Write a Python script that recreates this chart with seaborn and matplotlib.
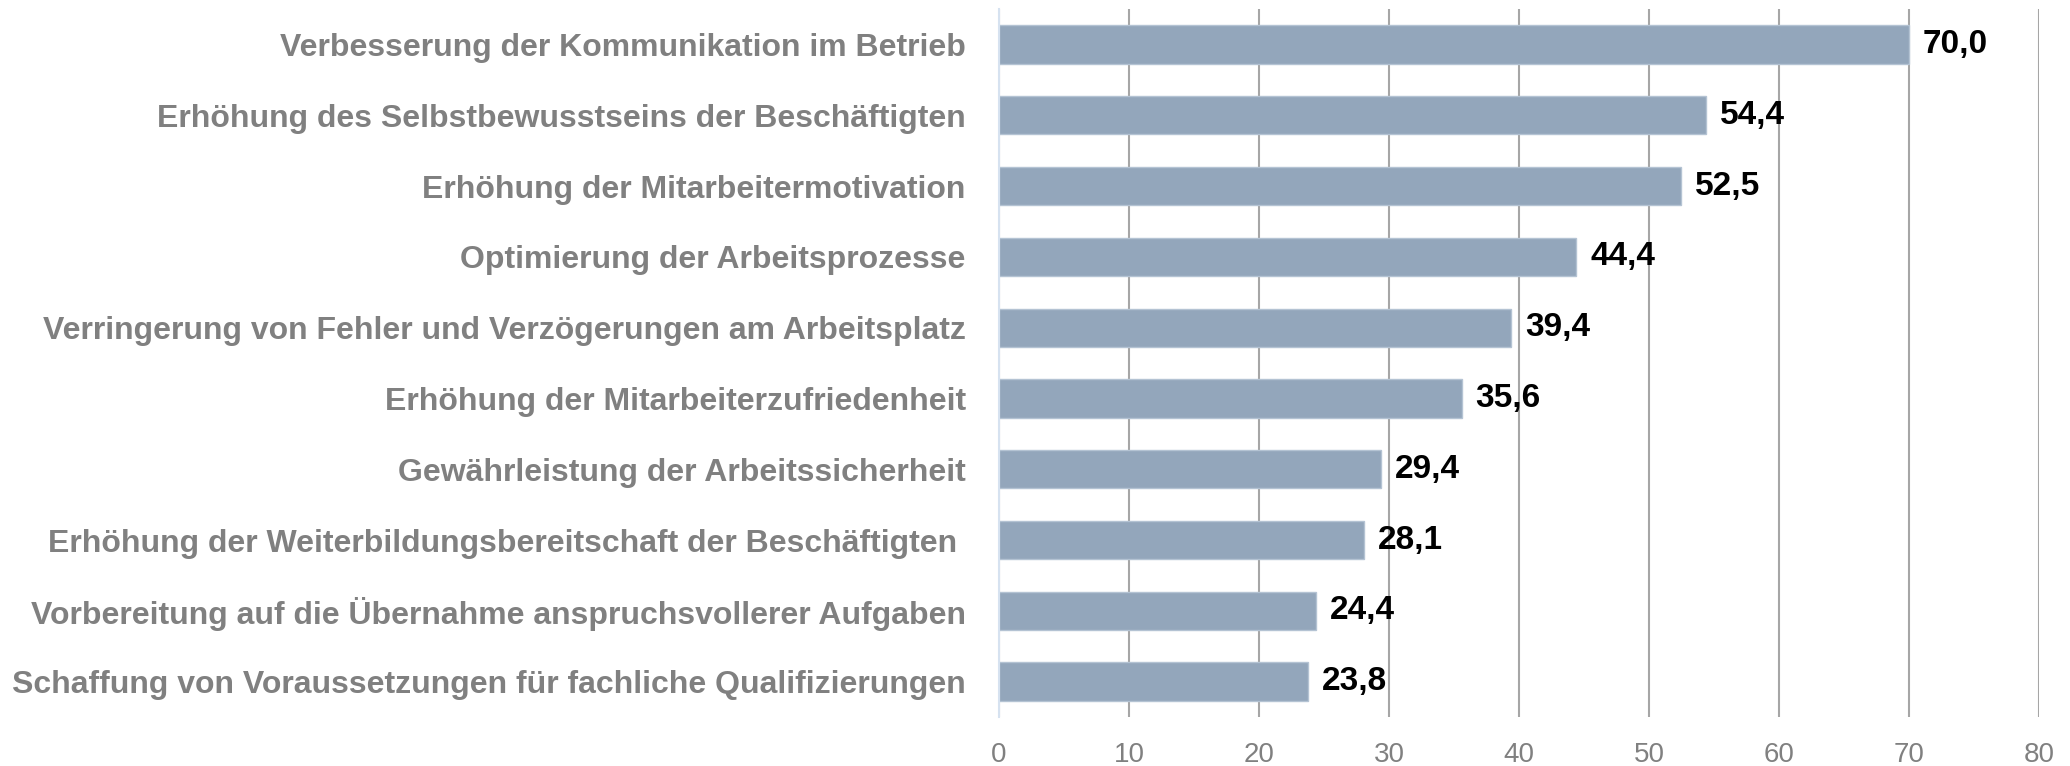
import matplotlib
matplotlib.use("Agg")
import matplotlib.pyplot as plt
import seaborn as sns
import pandas as pd

categories = [
    "Verbesserung der Kommunikation im Betrieb",
    "Erhöhung des Selbstbewusstseins der Beschäftigten",
    "Erhöhung der Mitarbeitermotivation",
    "Optimierung der Arbeitsprozesse",
    "Verringerung von Fehler und Verzögerungen am Arbeitsplatz",
    "Erhöhung der Mitarbeiterzufriedenheit",
    "Gewährleistung der Arbeitssicherheit",
    "Erhöhung der Weiterbildungsbereitschaft der Beschäftigten ",
    "Vorbereitung auf die Übernahme anspruchsvollerer Aufgaben",
    "Schaffung von Voraussetzungen für fachliche Qualifizierungen",
]
values = [70.0, 54.4, 52.5, 44.4, 39.4, 35.6, 29.4, 28.1, 24.4, 23.8]
xticks = [0, 10, 20, 30, 40, 50, 60, 70, 80]

df = pd.DataFrame({"Kategorie": categories, "Wert": values})

sns.set_style("white")
plt.rcParams['font.family'] = ['Liberation Sans', 'DejaVu Sans']

fig = plt.figure(figsize=(20.7, 7.66), dpi=100)
ax = fig.add_axes([0.4826, 0.064, 0.5024, 0.924])

sns.barplot(data=df, x="Wert", y="Kategorie", orient="h", color="#93a6bb",
            width=0.54, saturation=1, edgecolor="#b4c3d3", linewidth=1, ax=ax)

ax.set_xlim(0, 80)
ax.set_ylim(9.5, -0.5)
ax.set_xticks(xticks)
ax.set_xticklabels([str(t) for t in xticks])
ax.xaxis.grid(True, color="#a6a6a6", linewidth=1.5)
ax.set_axisbelow(True)
ax.set_xlabel("")
ax.set_ylabel("")

for s in ["top", "right", "bottom"]:
    ax.spines[s].set_visible(False)
ax.spines["left"].set_color("#d6e2f0")
ax.spines["left"].set_linewidth(1.5)

ax.tick_params(axis="x", length=0, pad=18, labelsize=20, labelcolor="#808080")
ax.tick_params(axis="y", length=0, pad=24, labelsize=23, labelcolor="#808080")
for lab in ax.get_yticklabels():
    lab.set_fontweight("bold")

ax.bar_label(ax.containers[0],
             labels=[f"{v:.1f}".replace(".", ",") for v in values],
             padding=10, fontsize=24, fontweight="bold", color="black")

fig.savefig("out.png", dpi=100)
